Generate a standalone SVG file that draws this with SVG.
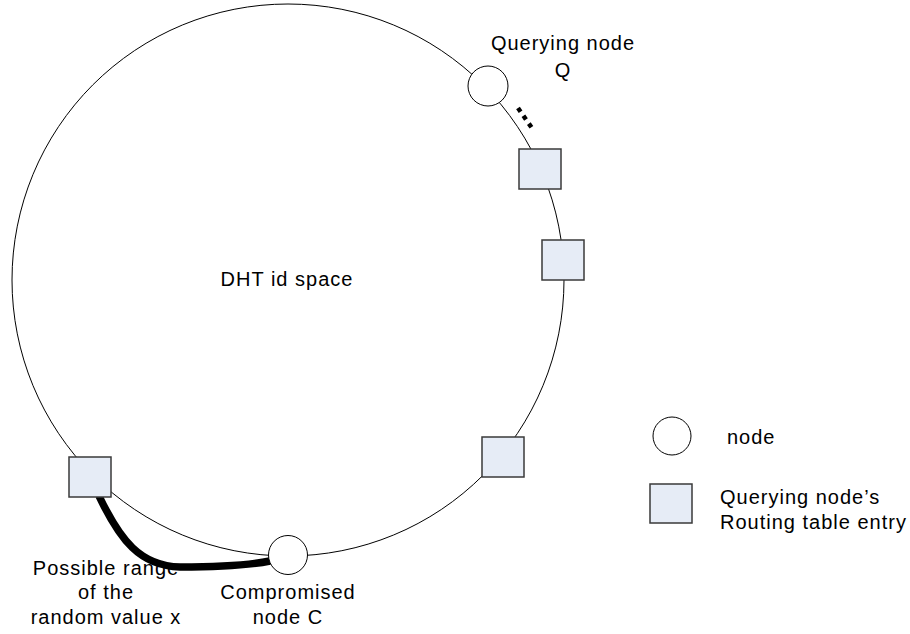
<svg xmlns="http://www.w3.org/2000/svg" width="910" height="634" viewBox="0 0 910 634">
<style>
text{font-family:"Liberation Sans",Arial,sans-serif;font-size:20px;fill:#000;letter-spacing:1px}
.mid{text-anchor:middle}
.ring{fill:none;stroke:#000;stroke-width:1}
.node{fill:#fff;stroke:#000;stroke-width:1}
.entry{fill:#e6ecf6;stroke:#3a3a3a;stroke-width:1.5}
</style>
<rect width="910" height="634" fill="#fff"/>
<g id="idspace">
<circle class="ring" cx="288" cy="280" r="276"/>
<text class="mid" x="287" y="286">DHT id space</text>
</g>
<g id="connectors">
<path d="M99 496 C120 540 140 566 180 567 C220 567 250 565 270 561" fill="none" stroke="#000" stroke-width="7.5" stroke-linecap="butt"/>
<path d="M518 108 L534 131" fill="none" stroke="#000" stroke-width="4.5" stroke-dasharray="4.5 5"/>
</g>
<g id="nodeQ">
<circle class="node" cx="488" cy="86" r="20"/>
<text class="mid" x="563" y="50">Querying node</text>
<text class="mid" x="563" y="77">Q</text>
</g>
<g id="entry1"><rect class="entry" x="519" y="149" width="42" height="40"/></g>
<g id="entry2"><rect class="entry" x="542" y="240" width="42" height="40"/></g>
<g id="entry3"><rect class="entry" x="482" y="437" width="42" height="40"/></g>
<g id="entry4"><rect class="entry" x="69" y="457" width="42" height="40"/></g>
<g id="nodeC">
<circle class="node" cx="288" cy="555" r="19.5"/>
<text class="mid" x="288" y="599">Compromised</text>
<text class="mid" x="288" y="624">node C</text>
</g>
<g id="range-label">
<text class="mid" x="106" y="575">Possible range</text>
<text class="mid" x="106" y="599">of the</text>
<text class="mid" x="106" y="624">random value x</text>
</g>
<g id="legend-node">
<circle class="node" cx="672" cy="436" r="19"/>
<text x="727" y="444">node</text>
</g>
<g id="legend-entry">
<rect class="entry" x="650" y="484" width="42" height="39"/>
<text x="720" y="504">Querying node’s</text>
<text x="720" y="529">Routing table entry</text>
</g>
</svg>
